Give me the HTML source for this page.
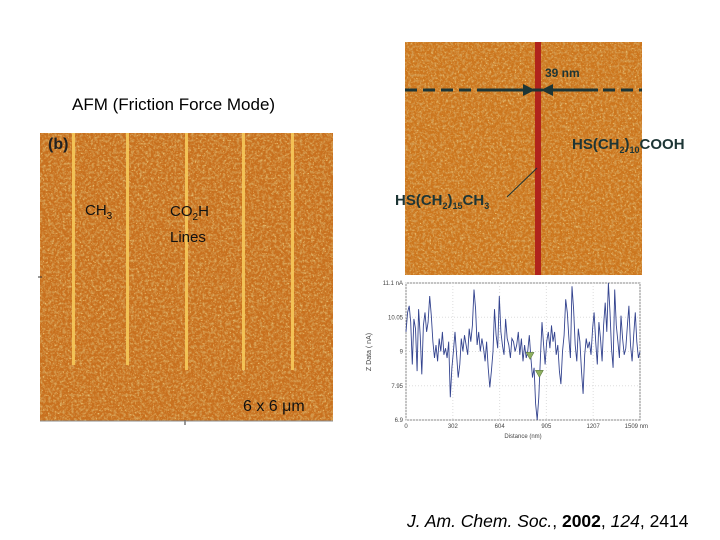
<!DOCTYPE html>
<html><head><meta charset="utf-8">
<style>
body{margin:0;width:720px;height:540px;background:#fff;position:relative;overflow:hidden;font-family:"Liberation Sans",sans-serif}
.t{position:absolute;white-space:nowrap}
</style></head><body>
<svg width="720" height="540" style="position:absolute;left:0;top:0">
<defs>
<filter id="tex" x="0" y="0" width="100%" height="100%">
<feTurbulence type="fractalNoise" baseFrequency="0.35" numOctaves="2" seed="3"/>
<feColorMatrix type="matrix" values="0 0 0 0 0.66  0 0 0 0 0.33  0 0 0 0 0.08  0 0 0 -3 1.7"/>
</filter>
<filter id="tex2" x="0" y="0" width="100%" height="100%">
<feTurbulence type="fractalNoise" baseFrequency="0.6" numOctaves="2" seed="7"/>
<feColorMatrix type="matrix" values="0 0 0 0 0.98  0 0 0 0 0.76  0 0 0 0 0.28  0 0 0 3 -1.8"/>
</filter>
</defs>
<g>
<rect x="40" y="133" width="293" height="288" fill="#c8701e"/>
<rect x="40" y="133" width="293" height="288" filter="url(#tex)"/>
<rect x="40" y="133" width="293" height="288" filter="url(#tex2)"/>
<g fill="#f7c95a" opacity="0.9">
<rect x="72" y="133" width="3" height="232"/>
<rect x="126" y="133" width="3" height="232"/>
<rect x="185" y="133" width="3" height="237"/>
<rect x="242" y="133" width="3" height="237"/>
<rect x="291" y="133" width="3" height="237"/>
</g>
<line x1="38" y1="277" x2="42" y2="277" stroke="#333"/>
<line x1="185" y1="420" x2="185" y2="425" stroke="#333"/>
<line x1="40" y1="421" x2="333" y2="421" stroke="#888"/>
</g>
<g>
<rect x="405" y="42" width="237" height="233" fill="#cc761e"/>
<rect x="405" y="42" width="237" height="233" filter="url(#tex)"/>
<rect x="405" y="42" width="237" height="233" filter="url(#tex2)"/>
<rect x="535" y="42" width="6" height="233" fill="#b0241c"/>
<line x1="405" y1="90" x2="642" y2="90" stroke="#1d3535" stroke-width="3" stroke-dasharray="12,6"/>
<line x1="480" y1="90" x2="525" y2="90" stroke="#1d3535" stroke-width="3"/>
<polygon points="535,90 523,84 523,96" fill="#1d3535"/>
<line x1="552" y1="90" x2="598" y2="90" stroke="#1d3535" stroke-width="3"/>
<polygon points="541,90 553,84 553,96" fill="#1d3535"/>
<line x1="507" y1="197" x2="537" y2="168" stroke="#1d3535" stroke-width="1"/>
</g>
<g id="chart">
<rect x="406" y="283" width="234" height="137" fill="#fff" stroke="#888"/>
<g id="grid"></g>
<polyline id="series" fill="none" stroke="#34448f" stroke-width="0.9"/>
<g id="marks"></g>
<g id="axes" font-size="6" fill="#444"></g>
<text x="371" y="352" font-size="7" fill="#444" transform="rotate(-90 371 352)" text-anchor="middle">Z Data ( nA)</text>
<text x="523" y="438" font-size="6" fill="#444" text-anchor="middle">Distance (nm)</text>
</g>
</svg>
<div class="t" style="left:72px;top:95px;font-size:17px">AFM (Friction Force Mode)</div>
<div class="t" style="left:48px;top:136px;font-size:16px;font-weight:bold;color:#222">(b)</div>
<div class="t" style="left:85px;top:202px;font-size:15px;color:#111">CH<sub style="font-size:10px">3</sub></div>
<div class="t" style="left:170px;top:202px;font-size:15px;color:#111;line-height:20px">CO<sub style="font-size:10px">2</sub>H<br>Lines</div>
<div class="t" style="left:243px;top:398px;font-size:16px;color:#111">6 x 6 μm</div>
<div class="t" style="left:545px;top:66px;font-size:12px;font-weight:bold;color:#1d3535">39 nm</div>
<div class="t" style="left:572px;top:136px;font-size:15px;font-weight:bold;color:#1d3535">HS(CH<sub style="font-size:9px">2</sub>)<sub style="font-size:9px">10</sub>COOH</div>
<div class="t" style="left:395px;top:192px;font-size:15px;font-weight:bold;color:#1d3535">HS(CH<sub style="font-size:9px">2</sub>)<sub style="font-size:9px">15</sub>CH<sub style="font-size:9px">3</sub></div>
<div class="t" style="left:407px;top:511px;font-size:17.5px;font-style:italic">J. Am. Chem. Soc.<span style="font-style:normal">, </span><b style="font-style:normal">2002</b><span style="font-style:normal">, </span>124<span style="font-style:normal">, 2414</span></div>
<script>
const yTicks=[11.1,10.05,9,7.95,6.9];
const yTickLabels=["11.1 nA","10.05","9","7.95","6.9"];
const xTicks=[0,302,604,905,1207,1509];
const xTickLabels=["0","302","604","905","1207","1509 nm"];
const zValues=[9.6,10.2,10.4,9.9,8.6,10.0,9.7,8.4,10.3,9.5,8.3,9.8,10.2,9.6,9.9,10.7,10.1,9.3,8.8,9.2,8.7,9.4,9.0,9.6,8.9,9.1,8.8,9.3,7.6,8.5,9.0,9.6,8.9,8.2,8.6,9.4,9.0,9.5,9.2,8.9,9.7,9.3,9.8,10.9,10.3,9.2,9.6,9.0,9.4,9.1,8.7,9.3,8.5,7.9,8.4,9.0,10.3,9.5,9.1,10.7,9.6,9.2,8.9,10.0,9.4,9.2,8.8,9.4,9.3,9.0,9.2,9.6,8.9,9.4,8.7,9.2,8.8,9.0,9.5,8.8,8.2,8.5,7.4,6.9,7.6,8.8,9.9,9.2,8.6,9.3,9.6,9.1,9.8,9.3,9.6,8.9,9.2,8.4,8.0,9.0,9.5,10.6,10.2,9.4,8.8,11.0,10.3,9.2,8.7,9.7,9.3,8.4,7.7,8.9,9.4,9.1,9.3,8.9,9.7,10.2,9.3,8.6,9.9,9.4,8.7,9.8,10.5,9.6,11.1,10.2,9.1,8.5,10.9,9.8,9.3,8.8,10.1,9.4,8.9,9.1,9.8,10.4,9.2,8.7,9.5,10.2,9.3,8.8,9.0];
const markerX=[800,860];
const markerY=[8.85,8.3];
const X0=406,X1=640,Y0=420,Y1=283;
const xMax=1509,yMin=6.9,yMax=11.1;
const xs=v=>X0+(v/xMax)*(X1-X0);
const ys=v=>Y0-(v-yMin)/(yMax-yMin)*(Y0-Y1);
const NS="http://www.w3.org/2000/svg";
const grid=document.getElementById('grid'),axes=document.getElementById('axes');
yTicks.forEach((v,i)=>{
 const l=document.createElementNS(NS,'line');
 l.setAttribute('x1',X0);l.setAttribute('x2',X1);l.setAttribute('y1',ys(v));l.setAttribute('y2',ys(v));
 l.setAttribute('stroke','#ddd');l.setAttribute('stroke-dasharray','1,2');
 
 
 grid.appendChild(l);
 const t=document.createElementNS(NS,'text');
 t.setAttribute('x',X0-3);t.setAttribute('y',ys(v)+2);t.setAttribute('text-anchor','end');
 t.textContent=yTickLabels[i];
 
 
 axes.appendChild(t);
});
xTicks.forEach((v,i)=>{
 const l=document.createElementNS(NS,'line');
 l.setAttribute('x1',xs(v));l.setAttribute('x2',xs(v));l.setAttribute('y1',Y1);l.setAttribute('y2',Y0);
 l.setAttribute('stroke','#ddd');l.setAttribute('stroke-dasharray','1,2');
 
 
 grid.appendChild(l);
 const t=document.createElementNS(NS,'text');
 t.setAttribute('x',xs(v));t.setAttribute('y',Y0+8);t.setAttribute('text-anchor',i==xTicks.length-1?'end':'middle');
 if(i==xTicks.length-1)t.setAttribute('x',xs(v)+8);
 t.textContent=xTickLabels[i];
 
 
 axes.appendChild(t);
});
const n=zValues.length;
document.getElementById('series').setAttribute('points',zValues.map((v,i)=>xs(i*xMax/(n-1)).toFixed(1)+','+ys(v).toFixed(1)).join(' '));
const marks=document.getElementById('marks');
markerX.forEach((mx,i)=>{
 const x=xs(mx),y=ys(markerY[i]);
 const p=document.createElementNS(NS,'polygon');
 p.setAttribute('points',`${x-4},${y-4} ${x+4},${y-4} ${x},${y+3}`);
 p.setAttribute('fill','#8fb060');p.setAttribute('stroke','#4a6a30');p.setAttribute('stroke-width','0.5');
 
 
 marks.appendChild(p);
});
</script>
</body></html>
